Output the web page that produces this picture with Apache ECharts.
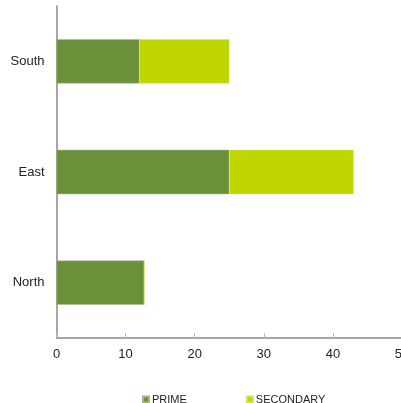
<!DOCTYPE html>
<html>
<head>
<meta charset="utf-8">
<script src="https://cdn.jsdelivr.net/npm/echarts@6/dist/echarts.min.js"></script>
<style>
  html, body { margin: 0; padding: 0; background: #fff; }
  #main { width: 401px; height: 403px; }
</style>
</head>
<body>
<div id="main"></div>
<script>
// 数据
let categories = ['North', 'East', 'South'];
let primeData = [12.7, 25, 12];
let secondaryData = [0, 18, 13];
let xTicks = [0, 10, 20, 30, 40, 50];

let myChart = echarts.init(document.getElementById('main'));

let option = {
    animation: false,
    textStyle: { fontFamily: 'Liberation Sans, Arial, sans-serif' },
    legend: {
        left: 137,
        top: 389,
        itemWidth: 6,
        itemHeight: 6,
        itemGap: 59,
        icon: 'rect',
        textStyle: { fontSize: 11, color: '#222', padding: [0, 0, 0, -2] },
        data: ['PRIME', 'SECONDARY']
    },
    grid: {
        left: 56.5,
        right: -1,
        top: 6,
        bottom: 65,
        containLabel: false,
        outerBoundsMode: 'none'
    },
    xAxis: {
        type: 'value',
        min: 0,
        max: 50,
        interval: 10,
        axisLine: { show: true, lineStyle: { color: '#888', width: 1.5 } },
        axisTick: { show: true, inside: true, length: 5, lineStyle: { color: '#bbb' } },
        splitLine: { show: false },
        axisLabel: {
            color: '#222',
            fontSize: 13,
            margin: 10,
            hideOverlap: false,
            formatter: function (v) { return xTicks.indexOf(v) >= 0 ? String(v) : ''; }
        }
    },
    yAxis: {
        type: 'category',
        data: categories,
        axisLine: { show: true, lineStyle: { color: '#888', width: 1.5 } },
        axisTick: { show: false },
        axisLabel: { color: '#222', fontSize: 13, margin: 12 }
    },
    series: [{
        name: 'PRIME',
        type: 'bar',
        stack: 'total',
        barWidth: '40%',
        itemStyle: { color: '#6a913a', borderColor: '#9fba80', borderWidth: 0.5 },
        data: primeData
    }, {
        name: 'SECONDARY',
        type: 'bar',
        stack: 'total',
        barWidth: '40%',
        itemStyle: { color: '#bfd600', borderColor: '#d3e260', borderWidth: 0.5 },
        data: secondaryData
    }]
};

myChart.setOption(option);
</script>
</body>
</html>
